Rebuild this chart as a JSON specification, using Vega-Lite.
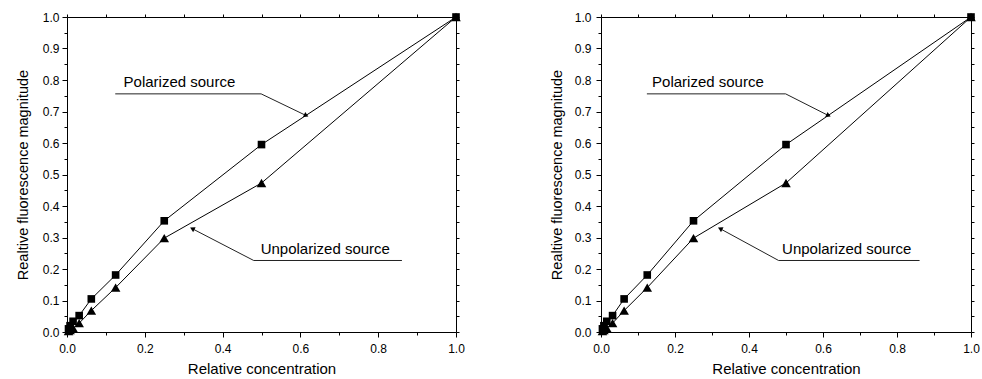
{
  "$schema": "https://vega.github.io/schema/vega-lite/v6.json",
  "background": "white",
  "padding": {"left": 14, "top": 10, "right": 5, "bottom": 0},
  "spacing": 83,
  "config": {
    "view": {"stroke": "black", "strokeWidth": 1},
    "font": "Liberation Sans",
    "axis": {"grid": false, "domain": false, "tickColor": "black", "labelColor": "black", "titleColor": "black", "labelFont": "Liberation Sans", "titleFont": "Liberation Sans", "labelFontSize": 12, "titleFontWeight": "normal", "labelFlush": false, "labelOverlap": false, "tickWidth": 1}
  },
  "datasets": {
    "series": [
      {"c": 0.0039, "v": 0.01, "s": "Polarized"},
      {"c": 0.0078, "v": 0.02, "s": "Polarized"},
      {"c": 0.0156, "v": 0.034, "s": "Polarized"},
      {"c": 0.03125, "v": 0.052, "s": "Polarized"},
      {"c": 0.0625, "v": 0.105, "s": "Polarized"},
      {"c": 0.125, "v": 0.181, "s": "Polarized"},
      {"c": 0.25, "v": 0.353, "s": "Polarized"},
      {"c": 0.5, "v": 0.595, "s": "Polarized"},
      {"c": 1.0, "v": 1.0, "s": "Polarized"},
      {"c": 0.0039, "v": 0.003, "s": "Unpolarized"},
      {"c": 0.0078, "v": 0.006, "s": "Unpolarized"},
      {"c": 0.0156, "v": 0.012, "s": "Unpolarized"},
      {"c": 0.03125, "v": 0.028, "s": "Unpolarized"},
      {"c": 0.0625, "v": 0.068, "s": "Unpolarized"},
      {"c": 0.125, "v": 0.141, "s": "Unpolarized"},
      {"c": 0.25, "v": 0.298, "s": "Unpolarized"},
      {"c": 0.5, "v": 0.473, "s": "Unpolarized"},
      {"c": 1.0, "v": 1.0, "s": "Unpolarized"}
    ],
    "leaders": [
      {"g": "P", "k": 1, "c": 0.124, "v": 0.756},
      {"g": "P", "k": 2, "c": 0.499, "v": 0.756},
      {"g": "P", "k": 3, "c": 0.615, "v": 0.687},
      {"g": "U", "k": 1, "c": 0.861, "v": 0.227},
      {"g": "U", "k": 2, "c": 0.48, "v": 0.227},
      {"g": "U", "k": 3, "c": 0.322, "v": 0.328}
    ],
    "arrows": [
      {"g": "P", "c": 0.615, "v": 0.687},
      {"g": "U", "c": 0.322, "v": 0.328}
    ],
    "labels": [
      {"t": "Polarized source", "c": 0.289, "v": 0.779},
      {"t": "Unpolarized source", "c": 0.664, "v": 0.247}
    ]
  },
  "hconcat": [
    {
      "width": 389,
      "height": 315,
      "resolve": {"axis": {"x": "independent", "y": "independent"}},
      "layer": [
        {
          "data": {"name": "series"},
          "mark": {"type": "line", "color": "black", "strokeWidth": 1},
          "encoding": {
            "x": {"field": "c", "type": "quantitative", "scale": {"domain": [0, 1], "nice": false},
              "axis": {"orient": "bottom", "values": [0, 0.2, 0.4, 0.6, 0.8, 1.0], "format": ".1f", "tickSize": 5, "labelPadding": 6, "title": "Relative concentration", "titleFontSize": 15, "titlePadding": 7}},
            "y": {"field": "v", "type": "quantitative", "scale": {"domain": [0, 1], "nice": false},
              "axis": {"orient": "left", "values": [0, 0.1, 0.2, 0.3, 0.4, 0.5, 0.6, 0.7, 0.8, 0.9, 1.0], "format": ".1f", "tickSize": 5, "labelPadding": 3, "title": "Realtive fluorescence magnitude", "titleFontSize": 14.5, "titlePadding": 12}},
            "detail": {"field": "s"}
          }
        },
        {
          "data": {"name": "series"},
          "mark": {"type": "point", "filled": true, "opacity": 1, "color": "black"},
          "encoding": {
            "x": {"field": "c", "type": "quantitative", "scale": {"domain": [0, 1], "nice": false},
              "axis": {"orient": "bottom", "values": [0.1, 0.3, 0.5, 0.7, 0.9], "tickSize": 3, "labels": false, "title": null}},
            "y": {"field": "v", "type": "quantitative", "scale": {"domain": [0, 1], "nice": false},
              "axis": {"orient": "left", "values": [0.05, 0.15, 0.25, 0.35, 0.45, 0.55, 0.65, 0.75, 0.85, 0.95], "tickSize": 3, "labels": false, "title": null}},
            "shape": {"field": "s", "type": "nominal", "scale": {"domain": ["Polarized", "Unpolarized"], "range": ["square", "triangle-up"]}, "legend": null},
            "size": {"field": "s", "type": "nominal", "scale": {"domain": ["Polarized", "Unpolarized"], "range": [58, 92]}, "legend": null}
          }
        },
        {
          "data": {"name": "leaders"},
          "mark": {"type": "line", "color": "#222", "strokeWidth": 1},
          "encoding": {
            "x": {"field": "c", "type": "quantitative", "scale": {"domain": [0, 1], "nice": false},
              "axis": {"orient": "top", "values": [0, 0.1, 0.2, 0.3, 0.4, 0.5, 0.6, 0.7, 0.8, 0.9, 1.0], "tickSize": 3, "labels": false, "title": null}},
            "y": {"field": "v", "type": "quantitative", "scale": {"domain": [0, 1], "nice": false},
              "axis": {"orient": "right", "values": [0, 0.05, 0.1, 0.15, 0.2, 0.25, 0.3, 0.35, 0.4, 0.45, 0.5, 0.55, 0.6, 0.65, 0.7, 0.75, 0.8, 0.85, 0.9, 0.95, 1.0], "tickSize": 3, "labels": false, "title": null}},
            "detail": {"field": "g"},
            "order": {"field": "k"}
          }
        },
        {
          "data": {"name": "arrows"},
          "transform": [{"filter": "datum.g == 'P'"}],
          "mark": {"type": "point", "shape": "triangle-right", "filled": true, "opacity": 1, "color": "black", "size": 30, "angle": 25.5},
          "encoding": {
            "x": {"field": "c", "type": "quantitative", "scale": {"domain": [0, 1], "nice": false}, "axis": null},
            "y": {"field": "v", "type": "quantitative", "scale": {"domain": [0, 1], "nice": false}, "axis": null}
          }
        },
        {
          "data": {"name": "arrows"},
          "transform": [{"filter": "datum.g == 'U'"}],
          "mark": {"type": "point", "shape": "triangle-right", "filled": true, "opacity": 1, "color": "black", "size": 30, "angle": 206.7},
          "encoding": {
            "x": {"field": "c", "type": "quantitative", "scale": {"domain": [0, 1], "nice": false}, "axis": null},
            "y": {"field": "v", "type": "quantitative", "scale": {"domain": [0, 1], "nice": false}, "axis": null}
          }
        },
        {
          "data": {"name": "labels"},
          "mark": {"type": "text", "font": "Liberation Sans", "fontSize": 15, "color": "black", "align": "center", "baseline": "alphabetic"},
          "encoding": {
            "x": {"field": "c", "type": "quantitative", "scale": {"domain": [0, 1], "nice": false}, "axis": null},
            "y": {"field": "v", "type": "quantitative", "scale": {"domain": [0, 1], "nice": false}, "axis": null},
            "text": {"field": "t"}
          }
        }
      ]
    },
    {
      "width": 370,
      "height": 315,
      "resolve": {"axis": {"x": "independent", "y": "independent"}},
      "layer": [
        {
          "data": {"name": "series"},
          "mark": {"type": "line", "color": "black", "strokeWidth": 1},
          "encoding": {
            "x": {"field": "c", "type": "quantitative", "scale": {"domain": [0, 1], "nice": false},
              "axis": {"orient": "bottom", "values": [0, 0.2, 0.4, 0.6, 0.8, 1.0], "format": ".1f", "tickSize": 5, "labelPadding": 6, "title": "Relative concentration", "titleFontSize": 15, "titlePadding": 7}},
            "y": {"field": "v", "type": "quantitative", "scale": {"domain": [0, 1], "nice": false},
              "axis": {"orient": "left", "values": [0, 0.1, 0.2, 0.3, 0.4, 0.5, 0.6, 0.7, 0.8, 0.9, 1.0], "format": ".1f", "tickSize": 5, "labelPadding": 5, "title": "Realtive fluorescence magnitude", "titleFontSize": 14.5, "titlePadding": 10}},
            "detail": {"field": "s"}
          }
        },
        {
          "data": {"name": "series"},
          "mark": {"type": "point", "filled": true, "opacity": 1, "color": "black"},
          "encoding": {
            "x": {"field": "c", "type": "quantitative", "scale": {"domain": [0, 1], "nice": false},
              "axis": {"orient": "bottom", "values": [0.1, 0.3, 0.5, 0.7, 0.9], "tickSize": 3, "labels": false, "title": null}},
            "y": {"field": "v", "type": "quantitative", "scale": {"domain": [0, 1], "nice": false},
              "axis": {"orient": "left", "values": [0.05, 0.15, 0.25, 0.35, 0.45, 0.55, 0.65, 0.75, 0.85, 0.95], "tickSize": 3, "labels": false, "title": null}},
            "shape": {"field": "s", "type": "nominal", "scale": {"domain": ["Polarized", "Unpolarized"], "range": ["square", "triangle-up"]}, "legend": null},
            "size": {"field": "s", "type": "nominal", "scale": {"domain": ["Polarized", "Unpolarized"], "range": [58, 92]}, "legend": null}
          }
        },
        {
          "data": {"name": "leaders"},
          "mark": {"type": "line", "color": "#222", "strokeWidth": 1},
          "encoding": {
            "x": {"field": "c", "type": "quantitative", "scale": {"domain": [0, 1], "nice": false},
              "axis": {"orient": "top", "values": [0, 0.1, 0.2, 0.3, 0.4, 0.5, 0.6, 0.7, 0.8, 0.9, 1.0], "tickSize": 3, "labels": false, "title": null}},
            "y": {"field": "v", "type": "quantitative", "scale": {"domain": [0, 1], "nice": false},
              "axis": {"orient": "right", "values": [0, 0.05, 0.1, 0.15, 0.2, 0.25, 0.3, 0.35, 0.4, 0.45, 0.5, 0.55, 0.6, 0.65, 0.7, 0.75, 0.8, 0.85, 0.9, 0.95, 1.0], "tickSize": 3, "labels": false, "title": null}},
            "detail": {"field": "g"},
            "order": {"field": "k"}
          }
        },
        {
          "data": {"name": "arrows"},
          "transform": [{"filter": "datum.g == 'P'"}],
          "mark": {"type": "point", "shape": "triangle-right", "filled": true, "opacity": 1, "color": "black", "size": 30, "angle": 25.5},
          "encoding": {
            "x": {"field": "c", "type": "quantitative", "scale": {"domain": [0, 1], "nice": false}, "axis": null},
            "y": {"field": "v", "type": "quantitative", "scale": {"domain": [0, 1], "nice": false}, "axis": null}
          }
        },
        {
          "data": {"name": "arrows"},
          "transform": [{"filter": "datum.g == 'U'"}],
          "mark": {"type": "point", "shape": "triangle-right", "filled": true, "opacity": 1, "color": "black", "size": 30, "angle": 206.7},
          "encoding": {
            "x": {"field": "c", "type": "quantitative", "scale": {"domain": [0, 1], "nice": false}, "axis": null},
            "y": {"field": "v", "type": "quantitative", "scale": {"domain": [0, 1], "nice": false}, "axis": null}
          }
        },
        {
          "data": {"name": "labels"},
          "mark": {"type": "text", "font": "Liberation Sans", "fontSize": 15, "color": "black", "align": "center", "baseline": "alphabetic"},
          "encoding": {
            "x": {"field": "c", "type": "quantitative", "scale": {"domain": [0, 1], "nice": false}, "axis": null},
            "y": {"field": "v", "type": "quantitative", "scale": {"domain": [0, 1], "nice": false}, "axis": null},
            "text": {"field": "t"}
          }
        }
      ]
    }
  ]
}
